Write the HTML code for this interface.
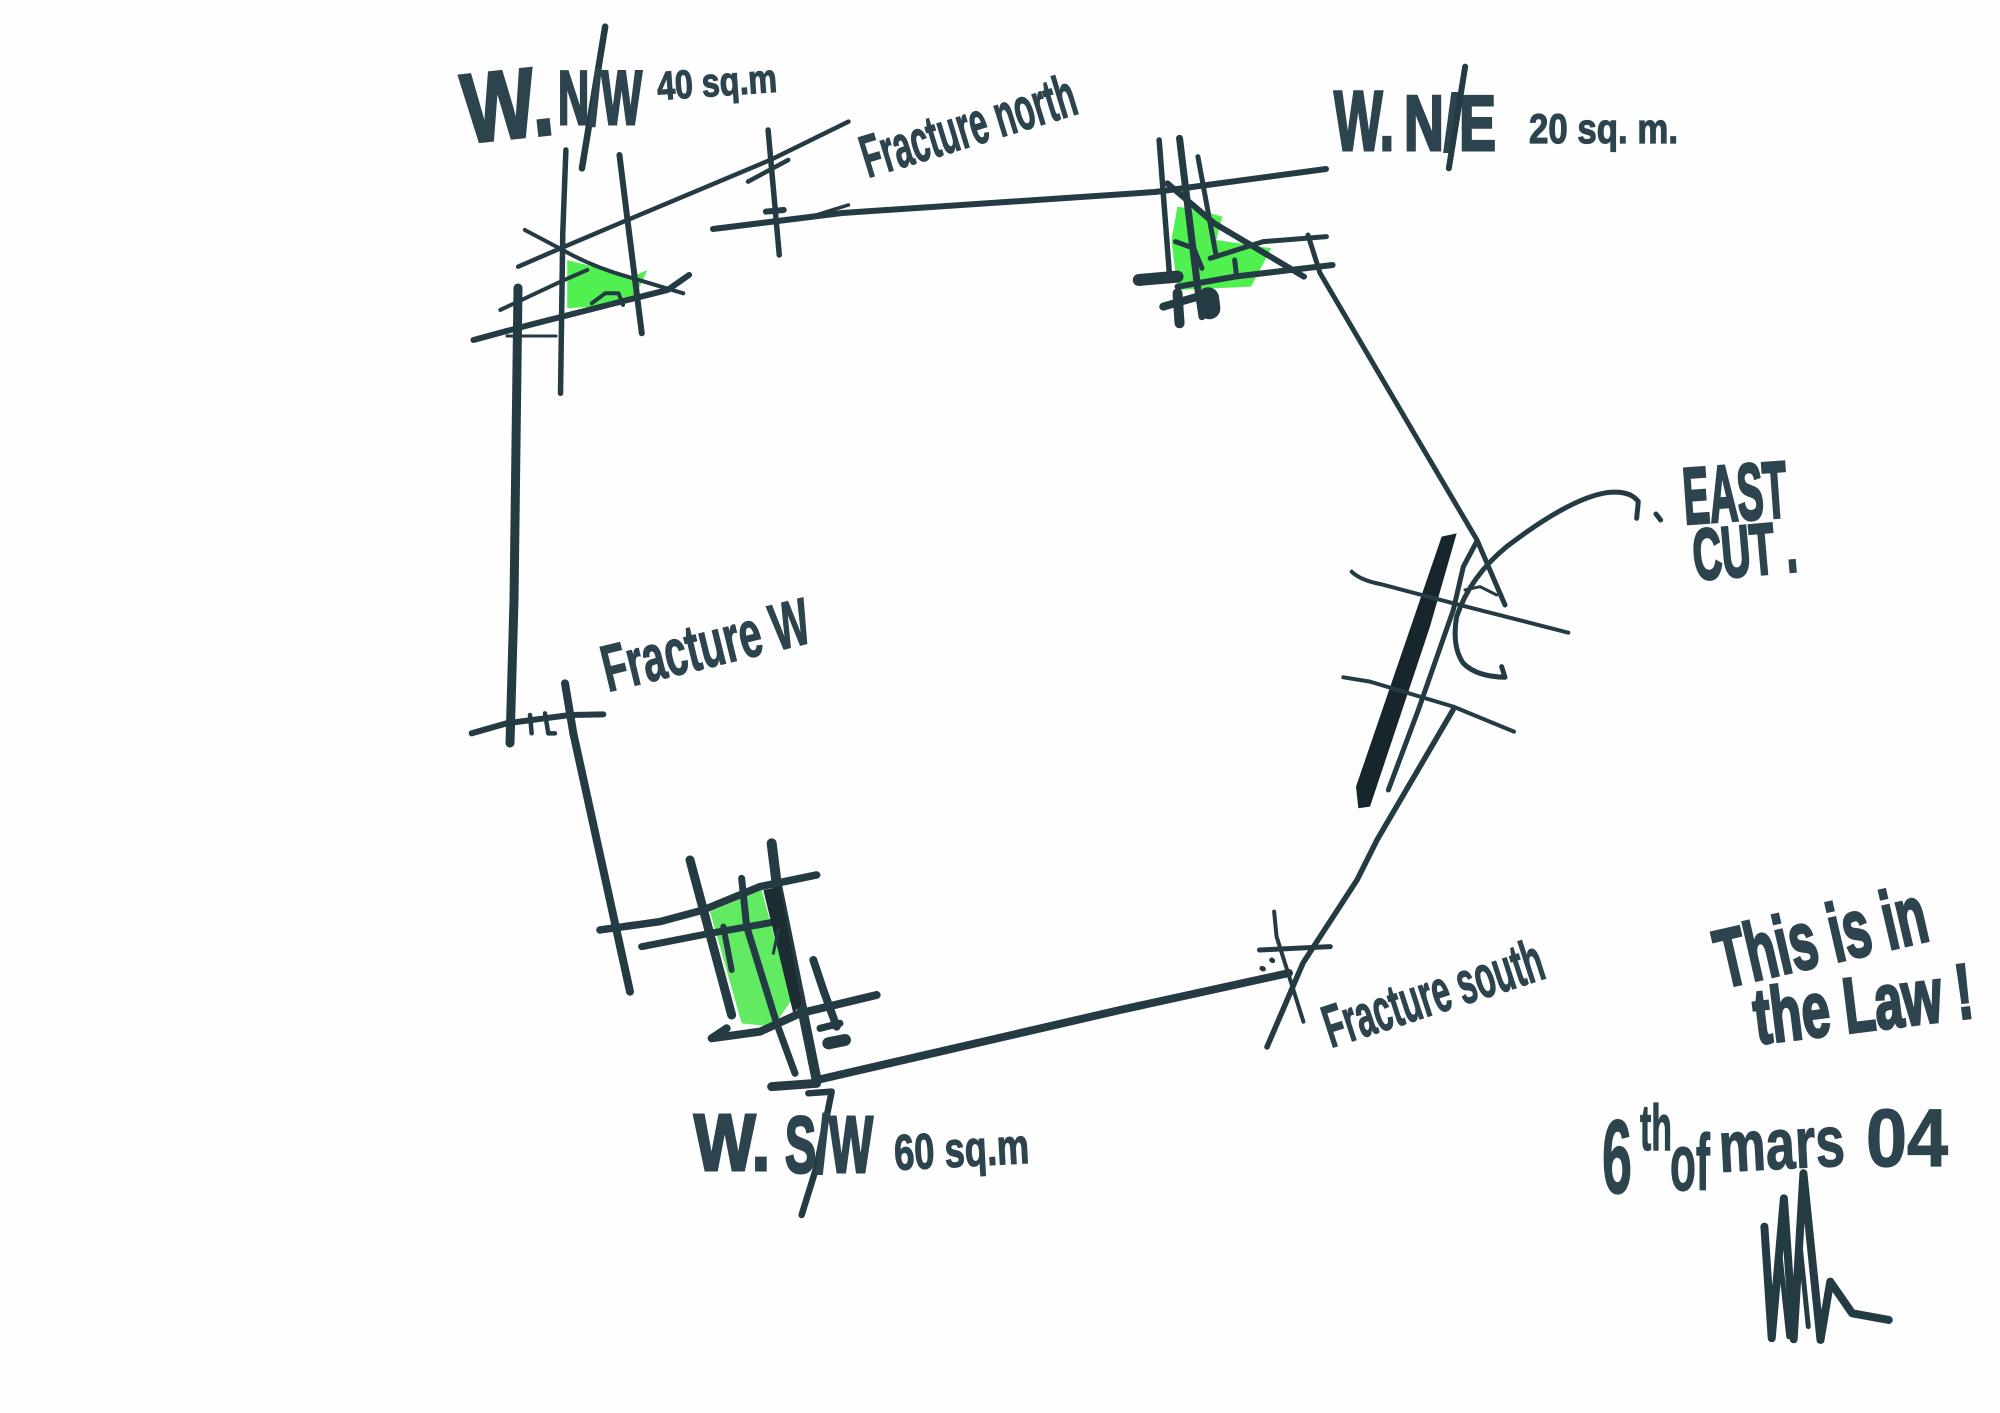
<!DOCTYPE html>
<html><head><meta charset="utf-8"><style>
html,body{margin:0;padding:0;background:#fff}
svg{display:block}
path{fill:none;stroke:#253b43;stroke-linecap:round;stroke-linejoin:round;vector-effect:non-scaling-stroke}
polygon{stroke:none}
text{font-family:"Liberation Sans",sans-serif;font-weight:700;fill:#2d444e;stroke:#2d444e;stroke-width:1.2}
text.b{stroke-width:3}
</style></head><body>
<svg width="2000" height="1413" viewBox="0 0 2000 1413" xmlns="http://www.w3.org/2000/svg">
<rect width="2000" height="1413" fill="#fefefe"/>

<!-- greens -->
<g transform="translate(440,0) scale(.4464,.3333)">
<polygon fill="#4ff04f" points="285,780 430,830 465,810 440,880 410,915 285,925"/>
</g>
<g transform="translate(1100,60) scale(.408,.3333)">
<polygon fill="#4ff04f" points="190,440 240,450 300,470 285,540 420,565 370,680 190,690 175,540"/>
</g>
<g transform="translate(660,840) scale(.3333)">
<polygon fill="#62ea62" points="150,215 305,150 395,480 340,560 245,550"/>
</g>

<!-- main continuous edges -->
<path stroke-width="6" d="M713,229 L842,213 L1155,192 L1326,169"/>
<path stroke-width="5" d="M1308,235 L1320,273 L1418,440 L1477,540 L1505,605"/>
<path stroke-width="5.5" d="M1453,710 L1377,840 L1357,880 L1303,963 L1267,1047"/>
<path stroke-width="8" d="M817,1080 L1120,1010 L1289,973"/>
<path stroke-width="9" d="M518,288 L514,600 L510,743"/>

<!-- NW corner -->
<g transform="translate(440,0) scale(.4464,.3333)">
<path stroke-width="6.5" d="M370,80 L318,505"/>
<path stroke-width="5.5" d="M282,450 L275,700 L270,1180"/>
<path stroke-width="6" d="M402,465 L420,660 L452,1000"/>
<path stroke-width="4.5" d="M175,800 L270,745 L420,660 L740,480 L915,365"/>
<path stroke-width="4" d="M190,690 L275,750 Q340,800 420,830 L545,880"/>
<path stroke-width="4" d="M135,930 L270,845 L330,810"/>
<path stroke-width="6" d="M75,1020 L200,975 L420,900 L510,870 L558,825"/>
<path stroke-width="3" d="M150,1008 L260,1008"/>
<path stroke-width="5.5" d="M735,390 L760,765"/>
<path stroke-width="4.5" d="M690,545 L780,480"/>
<path stroke-width="6" d="M730,635 L770,630"/>
<path stroke-width="4" d="M340,910 L370,880 L400,880 L410,915"/>
<path stroke-width="3.5" d="M830,650 L915,615"/>
</g>

<!-- NE corner -->
<g transform="translate(1100,60) scale(.408,.3333)">
<path stroke-width="5.5" d="M145,240 L170,640"/>
<path stroke-width="7" d="M195,235 L240,690 L250,770"/>
<path stroke-width="5" d="M240,290 L285,590"/>
<path stroke-width="6" d="M165,370 L280,490 L500,650"/>
<path stroke-width="5" d="M270,595 L400,545 L555,530"/>
<path stroke-width="6" d="M190,680 L330,650 L570,615"/>
<path stroke-width="12" d="M95,660 L190,650"/>
<path stroke-width="8" d="M155,740 L240,710"/>
<path stroke-width="10" d="M190,700 L195,790"/>
<path stroke-width="22" d="M265,715 L268,745"/>
<path stroke-width="5" d="M185,545 L230,565 L250,625"/>
<path stroke-width="5" d="M330,600 L335,650"/>
</g>

<!-- East cut -->
<g transform="translate(1320,440) scale(.3333)">
<path stroke-width="3" d="M435,450 L480,440 L530,465"/>
<polygon fill="#16262c" points="365,290 410,280 330,560 150,1100 115,1105 108,1040"/>
<path stroke-width="5" d="M470,305 L430,380 L400,510 L295,810 L205,1050"/>
<path stroke-width="5" d="M950,235 L955,185 Q930,150 860,158 Q750,175 560,320 Q450,410 410,530 Q395,620 430,670 Q470,710 555,712 L545,680"/>
<path stroke-width="4" d="M95,395 Q120,420 180,432 L400,490 L745,578"/>
<path stroke-width="4" d="M70,712 L150,725 L300,770 L400,800 L582,875"/>
<path stroke-width="5" d="M1008,222 L1022,240"/>
</g>

<!-- SE corner and signature -->
<g transform="translate(1240,880) scale(.4878,.3333)">
<path stroke-width="4" d="M70,95 L75,170 L130,425"/>
<path stroke-width="5" d="M40,210 L185,200"/>
<path stroke-width="5" d="M45,265 L48,267 M65,240 L67,242"/>
<path stroke-width="8" d="M1075,1040 L1090,1375 L1115,955 L1135,1378 L1155,880 L1190,1380 L1210,1205 L1255,1300 L1330,1320"/>
<path stroke-width="5" d="M1105,1100 L1125,1370 M1145,1050 L1165,1340"/>
</g>

<!-- West side and SW corner -->
<g transform="translate(460,600) scale(.3333)">
<path stroke-width="6" d="M35,400 L140,370 L330,345 L430,343"/>
<path stroke-width="4.5" d="M210,345 L215,400 M255,340 L265,400 L285,400"/>
<path stroke-width="8" d="M315,250 L340,400 L510,1175"/>
<path stroke-width="7.5" d="M420,990 L600,965 L730,930 L900,860 L1070,825"/>
<path stroke-width="7" d="M545,1040 L750,1000 L950,965"/>
</g>
<g transform="translate(660,840) scale(.3333)">
<path stroke-width="9" d="M90,60 L215,525"/>
<path stroke-width="10" d="M335,10 L350,130 L470,720"/>
<path stroke-width="7" d="M245,115 L260,260 L350,550 L405,700"/>
<path stroke-width="6" d="M190,260 L215,390"/>
<polygon fill="#1b2d33" points="310,150 360,140 425,490 400,520"/>
<path stroke-width="3" d="M340,340 L355,270"/>
<path stroke-width="8" d="M155,595 L200,565 M155,595 L300,575 L420,520 L650,465"/>
<path stroke-width="8" d="M460,360 L490,450 L530,560"/>
<path stroke-width="7" d="M480,565 L540,550"/>
<path stroke-width="12" d="M505,610 L555,600"/>
<path stroke-width="9" d="M335,740 L470,730"/>
<path stroke-width="6.5" d="M445,760 L515,755 L470,980 L425,1125"/>
</g>

<!-- labels -->
<text class="b" transform="translate(466,143) rotate(-6)" font-size="98" textLength="90" lengthAdjust="spacingAndGlyphs">W.</text>
<text class="b" transform="translate(558,124)" font-size="76" textLength="84" lengthAdjust="spacingAndGlyphs">N/W</text>
<text transform="translate(658,100) rotate(-4)" font-size="40" textLength="120" lengthAdjust="spacingAndGlyphs">40 sq.m</text>
<text transform="translate(868,178) rotate(-17)" font-size="60" textLength="222" lengthAdjust="spacingAndGlyphs">Fracture north</text>

<text class="b" transform="translate(1334,150)" font-size="84" textLength="60" lengthAdjust="spacingAndGlyphs">W.</text>
<text class="b" transform="translate(1404,150)" font-size="78" textLength="92" lengthAdjust="spacingAndGlyphs">N/E</text>
<text transform="translate(1529,143)" font-size="42" textLength="149" lengthAdjust="spacingAndGlyphs">20 sq. m.</text>
<path transform="translate(1100,60) scale(.408,.3333)" stroke-width="6" d="M895,20 L855,325"/>

<text class="b" transform="translate(1685,524) rotate(-4)" font-size="80" textLength="104" lengthAdjust="spacingAndGlyphs">EAST</text>
<text class="b" transform="translate(1695,580) rotate(-5)" font-size="72" textLength="104" lengthAdjust="spacingAndGlyphs">CUT .</text>

<text transform="translate(608,692) rotate(-13.7)" font-size="66" textLength="212" lengthAdjust="spacingAndGlyphs">Fracture W</text>

<text class="b" transform="translate(694,1170)" font-size="80" textLength="76" lengthAdjust="spacingAndGlyphs">W.</text>
<text class="b" transform="translate(785,1172)" font-size="80" textLength="88" lengthAdjust="spacingAndGlyphs">S/W</text>
<text transform="translate(895,1170) rotate(-3)" font-size="50" textLength="135" lengthAdjust="spacingAndGlyphs">60 sq.m</text>

<text transform="translate(1331,1048) rotate(-18)" font-size="60" textLength="228" lengthAdjust="spacingAndGlyphs">Fracture south</text>

<text class="b" transform="translate(1723,988) rotate(-13)" font-size="82" textLength="214" lengthAdjust="spacingAndGlyphs">This is in</text>
<text class="b" transform="translate(1757,1044) rotate(-7)" font-size="78" textLength="220" lengthAdjust="spacingAndGlyphs">the Law !</text>

<text transform="translate(1602,1193)" font-size="105" textLength="30" lengthAdjust="spacingAndGlyphs">6</text>
<text transform="translate(1640,1150)" font-size="65" textLength="32" lengthAdjust="spacingAndGlyphs">th</text>
<text transform="translate(1670,1190)" font-size="80" textLength="40" lengthAdjust="spacingAndGlyphs">of</text>
<text transform="translate(1720,1172) rotate(-3)" font-size="72" textLength="126" lengthAdjust="spacingAndGlyphs">mars</text>
<text transform="translate(1866,1166)" font-size="82" textLength="82" lengthAdjust="spacingAndGlyphs">04</text>
</svg>
</body></html>
